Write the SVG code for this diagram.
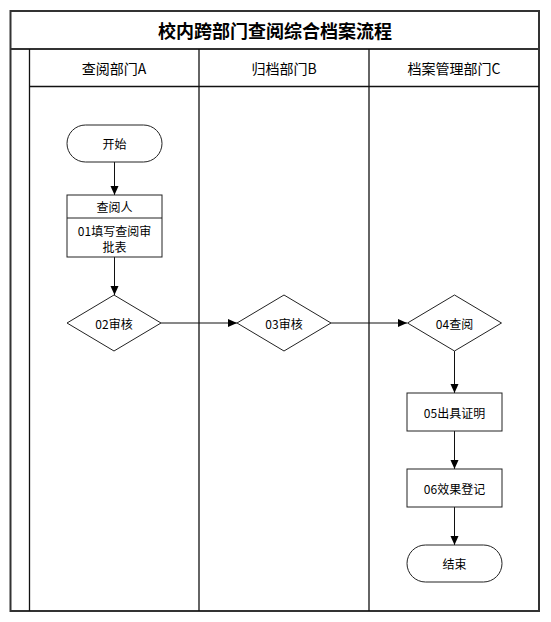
<svg xmlns="http://www.w3.org/2000/svg" width="551" height="622" viewBox="0 0 551 622">
<style>
.frame{fill:none;stroke:#333;stroke-width:2}
.lane{fill:none;stroke:#111;stroke-width:1.3}
.shape{fill:#fff;stroke:#222;stroke-width:1}
.t{font-family:"Noto Sans CJK SC","DejaVu Sans",sans-serif;font-size:12px;fill:#000;text-anchor:middle;dominant-baseline:central}
.h{font-family:"Noto Sans CJK SC","DejaVu Sans",sans-serif;font-size:14px;fill:#000;text-anchor:middle;dominant-baseline:central}
.title{font-family:"Noto Sans CJK SC","DejaVu Sans",sans-serif;font-size:18px;font-weight:bold;fill:#000;text-anchor:middle;dominant-baseline:central}
.c{fill:none;stroke:#111;stroke-width:1}
</style>
<defs>
<marker id="arr" markerWidth="10" markerHeight="10" refX="9" refY="5" orient="auto" markerUnits="userSpaceOnUse">
<path d="M0,1 L9,5 L0,9 Z" fill="#000"/>
</marker>
</defs>
<rect x="0" y="0" width="551" height="622" fill="#fff"/>
<g id="pool">
<rect class="frame" x="10.5" y="11" width="528.5" height="600"/>
<line class="frame" x1="10.5" y1="49" x2="539" y2="49"/>
<line class="lane" x1="29.5" y1="49" x2="29.5" y2="611"/>
<line class="lane" x1="29.5" y1="86.5" x2="539" y2="86.5"/>
<line class="lane" x1="199" y1="49" x2="199" y2="611"/>
<line class="lane" x1="369" y1="49" x2="369" y2="611"/>
<text class="title" x="275" y="30">校内跨部门查阅综合档案流程</text>
<text class="h" x="114" y="68">查阅部门A</text>
<text class="h" x="284" y="68">归档部门B</text>
<text class="h" x="454" y="68">档案管理部门C</text>
</g>
<g id="connectors">
<line class="c" x1="114.5" y1="162" x2="114.5" y2="195" marker-end="url(#arr)"/>
<line class="c" x1="114.5" y1="257" x2="114.5" y2="295" marker-end="url(#arr)"/>
<line class="c" x1="161" y1="323" x2="237" y2="323" marker-end="url(#arr)"/>
<line class="c" x1="331" y1="323" x2="407" y2="323" marker-end="url(#arr)"/>
<line class="c" x1="454.5" y1="351" x2="454.5" y2="393" marker-end="url(#arr)"/>
<line class="c" x1="454.5" y1="431" x2="454.5" y2="469" marker-end="url(#arr)"/>
<line class="c" x1="454.5" y1="507" x2="454.5" y2="545" marker-end="url(#arr)"/>
</g>
<g id="start">
<rect class="shape" x="67" y="125" width="95" height="37" rx="18.5"/>
<text class="t" x="114.5" y="143.5">开始</text>
</g>
<g id="n01">
<rect class="shape" x="67" y="195" width="95" height="62"/>
<line class="shape" x1="67" y1="218" x2="162" y2="218"/>
<text class="t" x="114.5" y="206.5">查阅人</text>
<text class="t" x="114.5" y="230">01填写查阅审</text>
<text class="t" x="114.5" y="246">批表</text>
</g>
<g id="n02">
<polygon class="shape" points="114,295 161,323 114,351 67,323"/>
<text class="t" x="114" y="323">02审核</text>
</g>
<g id="n03">
<polygon class="shape" points="284,295 331,323 284,351 237,323"/>
<text class="t" x="284" y="323">03审核</text>
</g>
<g id="n04">
<polygon class="shape" points="454.5,295 501.5,323 454.5,351 407.5,323"/>
<text class="t" x="454.5" y="323">04查阅</text>
</g>
<g id="n05">
<rect class="shape" x="407" y="393" width="95" height="38"/>
<text class="t" x="454.5" y="412">05出具证明</text>
</g>
<g id="n06">
<rect class="shape" x="407" y="469" width="95" height="38"/>
<text class="t" x="454.5" y="488">06效果登记</text>
</g>
<g id="end">
<rect class="shape" x="407" y="545" width="95" height="37" rx="18.5"/>
<text class="t" x="454.5" y="563.5">结束</text>
</g>
</svg>
